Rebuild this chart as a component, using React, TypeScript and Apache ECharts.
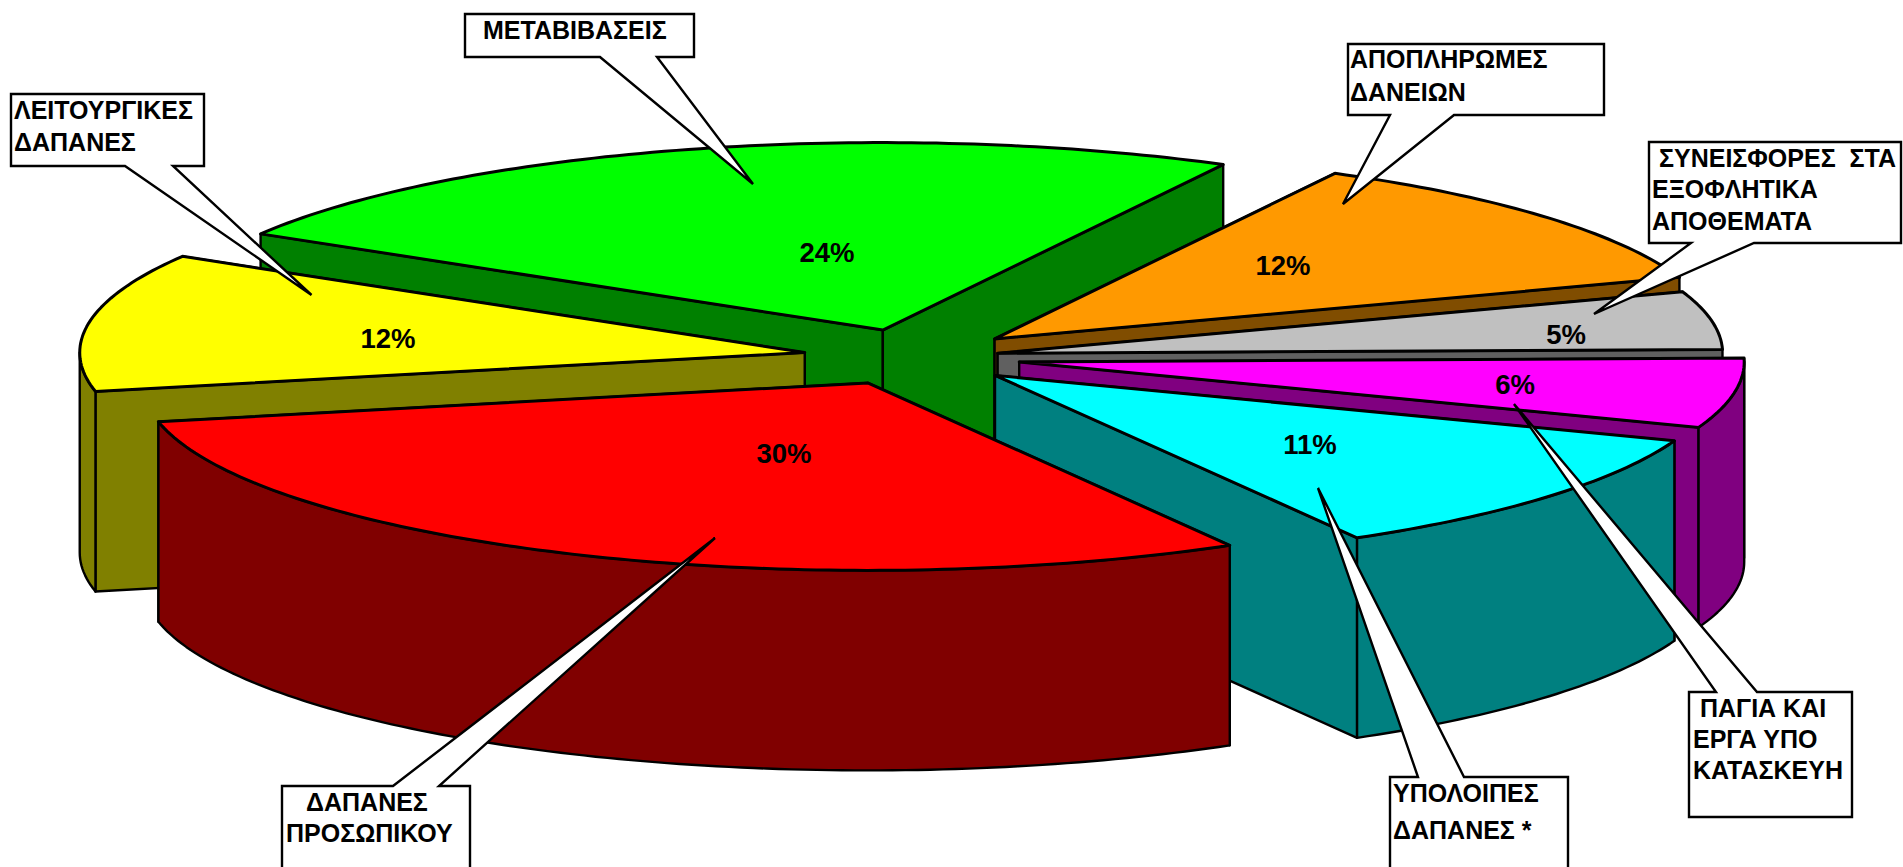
import React, { useEffect, useRef } from "react";
import * as echarts from "echarts";

// ---- data, clockwise from the first slice ----
const categories = [
  "ΑΠΟΠΛΗΡΩΜΕΣ ΔΑΝΕΙΩΝ",
  "ΣΥΝΕΙΣΦΟΡΕΣ ΣΤΑ ΕΞΟΦΛΗΤΙΚΑ ΑΠΟΘΕΜΑΤΑ",
  "ΠΑΓΙΑ ΚΑΙ ΕΡΓΑ ΥΠΟ ΚΑΤΑΣΚΕΥΗ",
  "ΥΠΟΛΟΙΠΕΣ ΔΑΠΑΝΕΣ *",
  "ΔΑΠΑΝΕΣ ΠΡΟΣΩΠΙΚΟΥ",
  "ΛΕΙΤΟΥΡΓΙΚΕΣ ΔΑΠΑΝΕΣ",
  "ΜΕΤΑΒΙΒΑΣΕΙΣ",
];
const values = [11.9, 5, 6, 11, 30, 11.9, 24.2];
const explosions = [0.15, 0.12, 0.15, 0.15, 0.15, 0.15, 0.15];

// ---- styling and layout ----
const topColors = ["#FF9900", "#C0C0C0", "#FF00FF", "#00FFFF", "#FF0000", "#FFFF00", "#00FF00"];
const sideColors = ["#804D00", "#606060", "#800080", "#008080", "#800000", "#808000", "#008000"];
const drawOrder = [6, 0, 1, 2, 5, 3, 4];
const labelCentres = [
  [1283, 265], [1566, 334], [1515, 384], [1310, 444], [784, 453], [388, 338], [827, 252],
];
const PIE = { cx: 912, cy: 357.2, rx: 725, ry: 187.5, depth: 200, startAngle: 28 };

type Callout = {
  box: number[];
  side: "top" | "bottom";
  wedge: number[];
  lines: [string, number, number][];
};
const callouts: Callout[] = [
  { box: [465, 14, 694, 57], side: "bottom", wedge: [600, 657, 753, 184], lines: [["ΜΕΤΑΒΙΒΑΣΕΙΣ", 483, 30]] },
  { box: [11, 94, 204, 166], side: "bottom", wedge: [125, 173, 311.5, 295], lines: [["ΛΕΙΤΟΥΡΓΙΚΕΣ", 14, 110], ["ΔΑΠΑΝΕΣ", 14, 142]] },
  { box: [1348, 44, 1604, 115], side: "bottom", wedge: [1390, 1454, 1343, 204], lines: [["ΑΠΟΠΛΗΡΩΜΕΣ", 1350, 59], ["ΔΑΝΕΙΩΝ", 1350, 92]] },
  { box: [1649, 142, 1901, 243], side: "bottom", wedge: [1691, 1754, 1594, 314], lines: [["ΣΥΝΕΙΣΦΟΡΕΣ\u00A0\u00A0ΣΤΑ", 1659, 158], ["ΕΞΟΦΛΗΤΙΚΑ", 1652, 189], ["ΑΠΟΘΕΜΑΤΑ", 1652, 221]] },
  { box: [282, 786, 470, 880], side: "top", wedge: [393, 439, 715, 538], lines: [["ΔΑΠΑΝΕΣ", 306, 802], ["ΠΡΟΣΩΠΙΚΟΥ", 286, 833]] },
  { box: [1390, 777, 1568, 880], side: "top", wedge: [1418, 1464, 1318, 488], lines: [["ΥΠΟΛΟΙΠΕΣ", 1393, 793], ["ΔΑΠΑΝΕΣ *", 1393, 830]] },
  { box: [1689, 692, 1852, 817], side: "top", wedge: [1716, 1757, 1514, 404], lines: [["ΠΑΓΙΑ ΚΑΙ", 1700, 708], ["ΕΡΓΑ ΥΠΟ", 1693, 739], ["ΚΑΤΑΣΚΕΥΗ", 1693, 770]] },
];

const FONT = '"Liberation Sans", Arial, sans-serif';
const rad = (d: number) => (d * Math.PI) / 180;
const total = values.reduce((a, b) => a + b, 0);

function sliceAngles(i: number) {
  const before = values.slice(0, i).reduce((a, b) => a + b, 0);
  const a0 = PIE.startAngle + (before / total) * 360;
  return [a0, a0 + (values[i] / total) * 360];
}

function renderSlice(params: any) {
  const i = drawOrder[params.dataIndex];
  const [a0, a1] = sliceAngles(i);
  const mid = rad((a0 + a1) / 2);
  const e = explosions[i];
  const cx = PIE.cx + e * PIE.rx * Math.sin(mid);
  const cy = PIE.cy - e * PIE.ry * Math.cos(mid);
  const pt = (deg: number, dy = 0) => [
    cx + PIE.rx * Math.sin(rad(deg)),
    cy - PIE.ry * Math.cos(rad(deg)) + dy,
  ];
  const arc = (from: number, to: number, dy = 0) => {
    const pts: number[][] = [];
    const n = Math.max(2, Math.ceil(Math.abs(to - from)));
    for (let k = 0; k <= n; k++) pts.push(pt(from + ((to - from) * k) / n, dy));
    return pts;
  };
  const wallStyle = { fill: sideColors[i], stroke: "#000", lineWidth: 2.4, lineJoin: "round" };
  const wall = (deg: number) => {
    const p = pt(deg);
    return {
      type: "polygon",
      shape: { points: [[cx, cy], p, [p[0], p[1] + PIE.depth], [cx, cy + PIE.depth]] },
      style: wallStyle,
    };
  };
  const backWalls: any[] = [];
  const frontWalls: any[] = [];
  (Math.sin(rad(a0)) < 0 ? frontWalls : backWalls).push(wall(a0));
  (Math.sin(rad(a1)) > 0 ? frontWalls : backWalls).push(wall(a1));
  const outer: any[] = [];
  const oa = Math.max(a0, 90);
  const ob = Math.min(a1, 270);
  if (ob > oa) {
    outer.push({
      type: "polygon",
      shape: { points: [...arc(oa, ob), ...arc(oa, ob, PIE.depth).reverse()] },
      style: wallStyle,
    });
  }
  const top = {
    type: "polygon",
    shape: { points: [[cx, cy], ...arc(a0, a1)] },
    style: { fill: topColors[i], stroke: "#000", lineWidth: 3, lineJoin: "round" },
  };
  const label = {
    type: "text",
    style: {
      text: `${Math.round(values[i])}%`,
      x: labelCentres[i][0],
      y: labelCentres[i][1],
      fill: "#000",
      fontSize: 27.5,
      fontWeight: "bold",
      fontFamily: FONT,
      align: "center",
      verticalAlign: "middle",
    },
  };
  return { type: "group", children: [...backWalls, ...frontWalls, ...outer, top, label] };
}

function calloutElements() {
  const els: any[] = [];
  callouts.forEach((c) => {
    const [x0, y0, x1, y1] = c.box;
    const [a, b, tx, ty] = c.wedge;
    const points =
      c.side === "bottom"
        ? [[x0, y0], [x1, y0], [x1, y1], [b, y1], [tx, ty], [a, y1], [x0, y1]]
        : [[x0, y0], [a, y0], [tx, ty], [b, y0], [x1, y0], [x1, y1], [x0, y1]];
    els.push({
      type: "polygon",
      z: 100,
      shape: { points },
      style: { fill: "#fff", stroke: "#000", lineWidth: 2.4, lineJoin: "miter" },
    });
    c.lines.forEach(([text, x, y]) => {
      els.push({
        type: "text",
        z: 101,
        x,
        y,
        style: {
          text,
          fill: "#000",
          fontSize: 25,
          fontWeight: "bold",
          fontFamily: FONT,
          align: "left",
          verticalAlign: "middle",
        },
      });
    });
  });
  return els;
}

export default function App() {
  const ref = useRef<HTMLDivElement>(null);
  useEffect(() => {
    document.body.style.margin = "0";
    const chart = echarts.init(ref.current!, undefined, { renderer: "svg" });
    chart.setOption({
      animation: false,
      backgroundColor: "#fff",
      series: [
        {
          type: "custom",
          coordinateSystem: "none",
          silent: true,
          data: drawOrder.map((i) => ({ name: categories[i], value: values[i] })),
          renderItem: renderSlice,
        },
      ],
      graphic: { elements: calloutElements() },
    });
    return () => chart.dispose();
  }, []);
  return <div ref={ref} style={{ width: 1903, height: 867, overflow: "hidden" }} />;
}
